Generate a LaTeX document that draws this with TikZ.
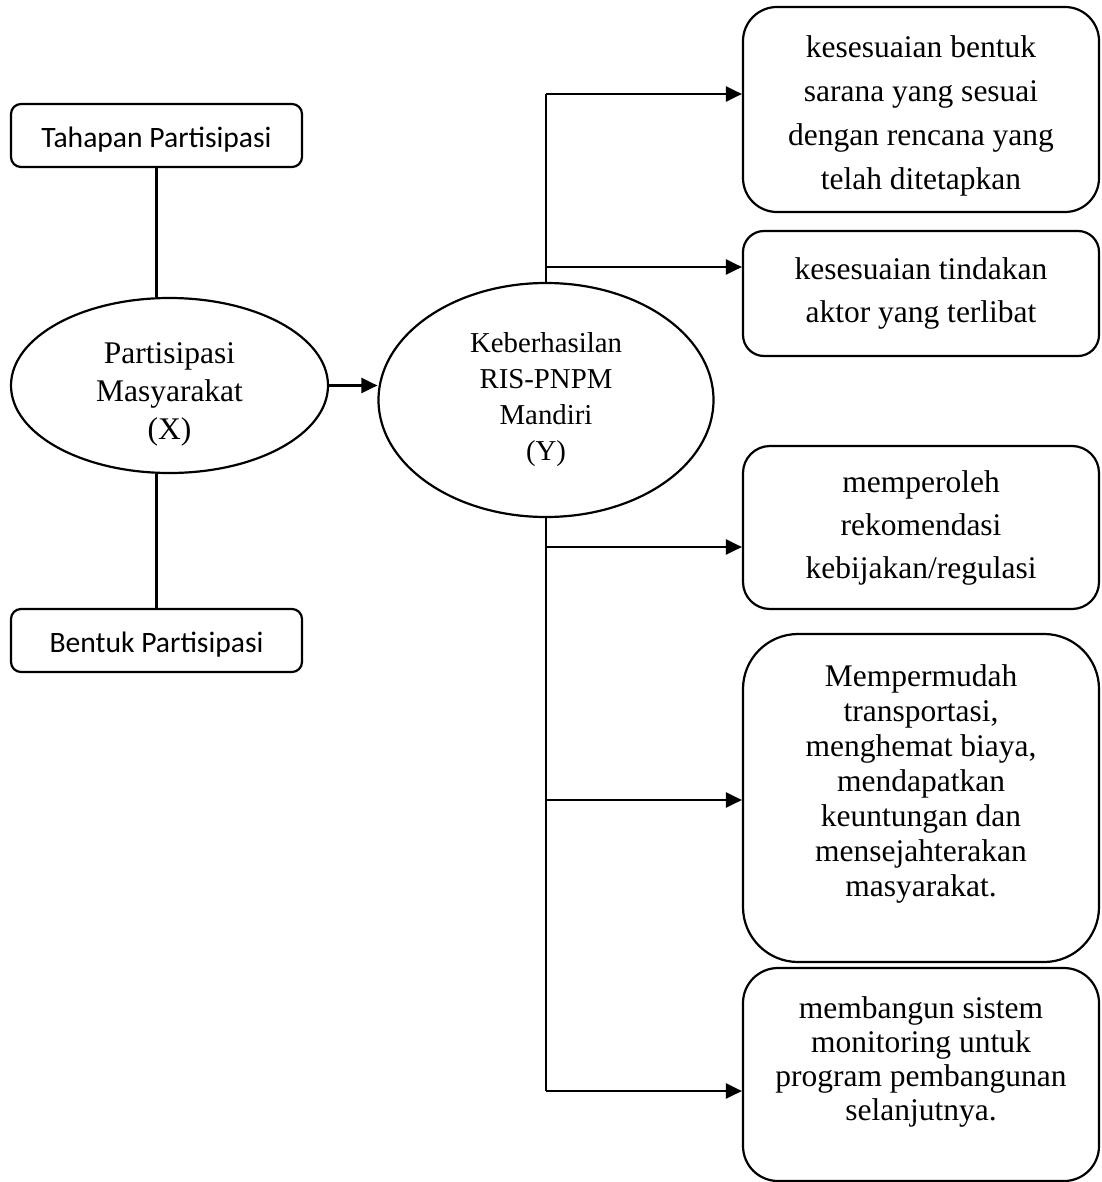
\documentclass[tikz,border=0pt]{standalone}
\usepackage{fontspec}
\setmainfont{Liberation Serif}
\newfontfamily\calibri{Carlito}
\usetikzlibrary{shapes.geometric,arrows.meta}
\begin{document}
\begin{tikzpicture}[x=1pt,y=1pt,
  lw/.style={line width=2.2pt},
  conn/.style={lw},
  arr/.style={lw,-{Triangle[length=16pt,width=15pt]}},
  leftbox/.style={draw,lw,rounded corners=10pt,minimum width=291pt,minimum height=63pt,inner sep=0pt,text height=24pt,text depth=0pt,font=\calibri\fontsize{29.6}{35}\selectfont},
  ell/.style={draw,lw,ellipse,inner sep=0pt,fill=white,align=center},
  rbox/.style={draw,lw,minimum width=356pt,inner sep=0pt,align=center},
]
\useasboundingbox (0,0) rectangle (1101,-1182);

% left side
\node[leftbox] (T) at (156.5,-135.5) {Tahapan Partisipasi};
\node[leftbox] (B) at (156.5,-640.5) {Bentuk Partisipasi};
\node[ell,minimum width=317pt,minimum height=175pt,font=\fontsize{31.5}{38}\selectfont] (X) at (169.5,-385.5) {\mbox{}\\Partisipasi\\Masyarakat\\(X)};
\node[ell,minimum width=335pt,minimum height=234pt,font=\fontsize{28.8}{36}\selectfont] (Y) at (546,-400) {Keberhasilan\\RIS-PNPM\\Mandiri\\(Y)};

% right boxes
\node[rbox,rounded corners=34pt,minimum height=205pt,font=\fontsize{31.5}{44}\selectfont] (R1) at (921,-109.5) {\mbox{}\\[-10pt]kesesuaian bentuk\\sarana yang sesuai\\dengan rencana yang\\telah ditetapkan};
\node[rbox,rounded corners=21pt,minimum height=125pt,font=\fontsize{31.5}{43}\selectfont] (R2) at (921,-293.5) {kesesuaian tindakan\\aktor yang terlibat};
\node[rbox,rounded corners=27pt,minimum height=163pt,font=\fontsize{31.5}{43}\selectfont] (R3) at (921,-527.5) {memperoleh\\rekomendasi\\kebijakan/regulasi};
\node[rbox,rounded corners=55pt,minimum height=328pt,font=\fontsize{31.5}{35}\selectfont] (R4) at (921,-798) {Mempermudah\\transportasi,\\menghemat biaya,\\mendapatkan\\keuntungan dan\\mensejahterakan\\masyarakat.\\[-11pt]\strut};
\node[rbox,rounded corners=35pt,minimum height=213pt,font=\fontsize{31.5}{34}\selectfont] (R5) at (921,-1074.5) {membangun sistem\\monitoring untuk\\program pembangunan\\selanjutnya.\\[-12pt]\strut};

% junctions on the trunk line
\coordinate (j1) at (546,-94);
\coordinate (j2) at (546,-267);
\coordinate (j3) at (546,-547);
\coordinate (j4) at (546,-800);
\coordinate (j5) at (546,-1091);

% connectors
\draw[conn] (T.south) -- (T.south |- X.north);
\draw[conn] (B.north) -- (B.north |- X.south);
\draw[arr] (X.east) -- (X.east -| Y.west);
\draw[conn] (Y.north) -- (j1);
\draw[conn] (Y.south) -- (j5);
\draw[arr] (j1) -- (j1 -| R1.west);
\draw[arr] (j2) -- (j2 -| R2.west);
\draw[arr] (j3) -- (j3 -| R3.west);
\draw[arr] (j4) -- (j4 -| R4.west);
\draw[arr] (j5) -- (j5 -| R5.west);
\end{tikzpicture}
\end{document}
